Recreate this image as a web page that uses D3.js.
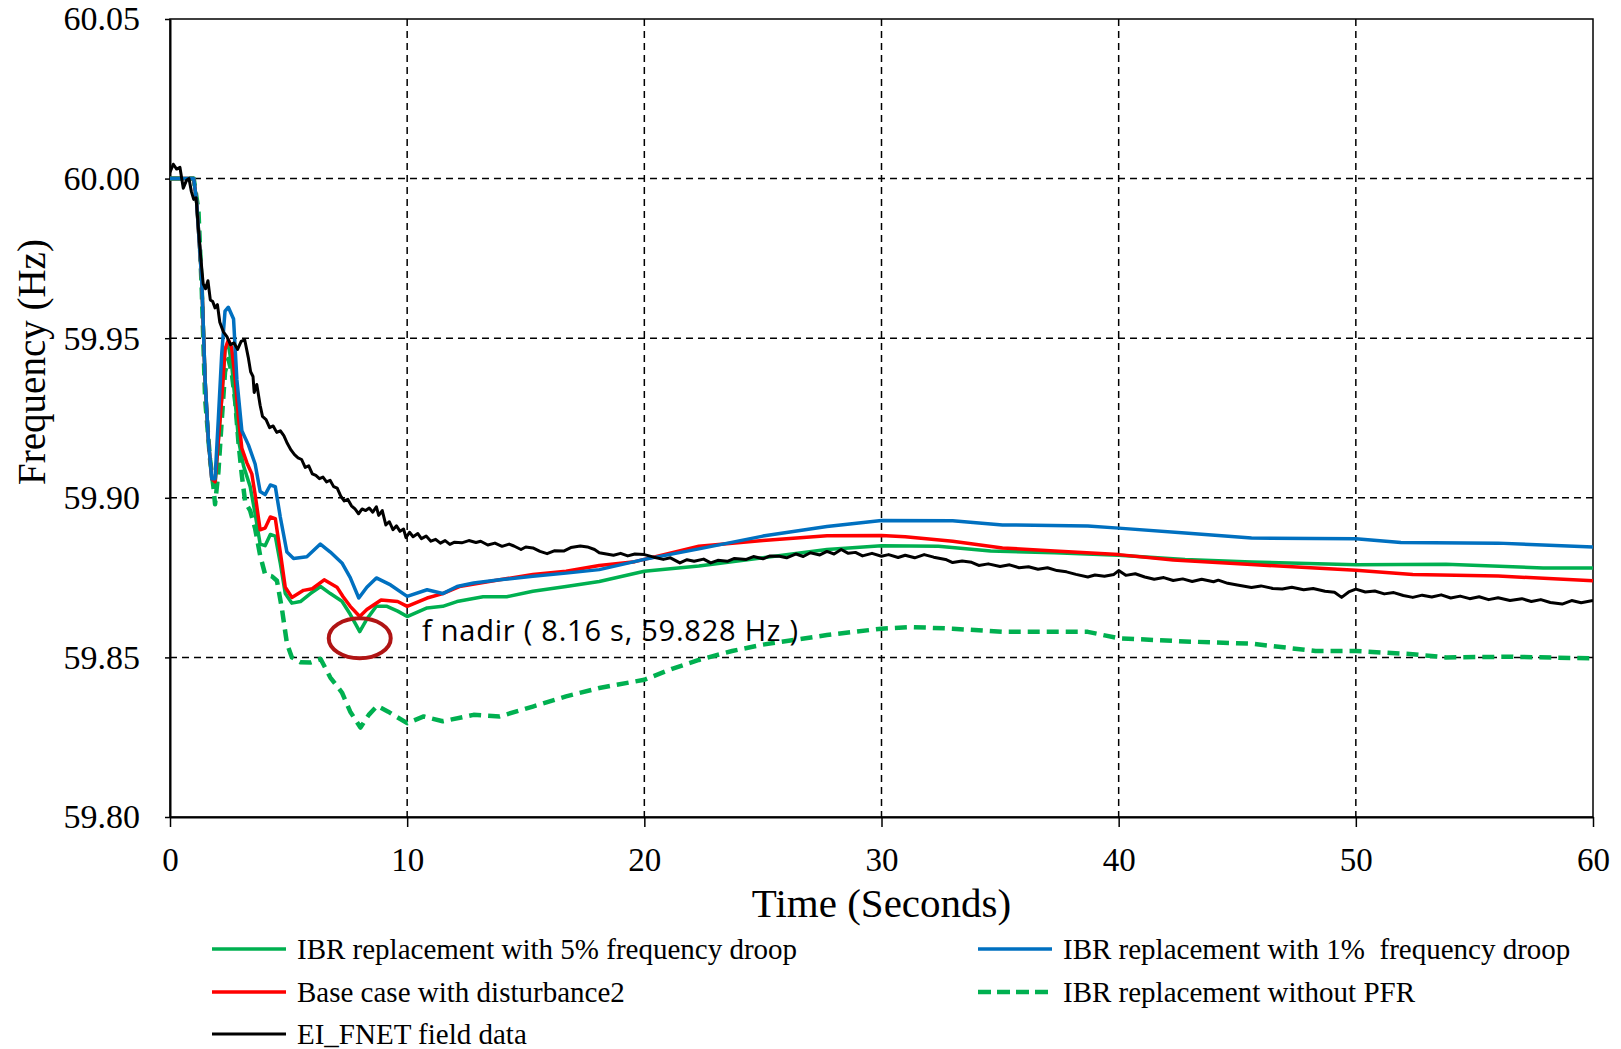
<!DOCTYPE html>
<html>
<head>
<meta charset="utf-8">
<script src="https://cdn.jsdelivr.net/npm/d3@7"></script>
<style>
  body { margin: 0; background: #fff; }
</style>
</head>
<body>
<svg id="chart" width="1621" height="1049"></svg>
<script>

const xTicks = [0, 10, 20, 30, 40, 50, 60]
const yTicks = [59.80, 59.85, 59.90, 59.95, 60.00, 60.05]

// IBR replacement with 5% frequency droop
const droop5 = [[0,60.000],[1.0,60.000],[1.12,59.993],[1.34,59.968],[1.48,59.937],[1.62,59.918],[1.76,59.906],[1.9,59.904],[2.04,59.918],[2.18,59.931],[2.32,59.9465],[2.46,59.948],[2.6,59.9417],[2.75,59.930],[2.89,59.918],[3.1,59.910],[3.38,59.9035],[3.59,59.895],[3.8,59.8855],[4.01,59.885],[4.23,59.8885],[4.44,59.888],[4.65,59.8795],[4.86,59.870],[5.14,59.867],[5.5,59.8675],[5.92,59.870],[6.35,59.8722],[6.76,59.870],[7.25,59.8676],[7.6,59.8635],[8.0,59.8581],[8.3,59.862],[8.7,59.866],[9.15,59.866],[9.6,59.8645],[10.0,59.8628],[10.84,59.8655],[11.5,59.866],[12.1,59.8675],[13.2,59.869],[14.2,59.869],[15.3,59.8707],[16.7,59.8722],[18.1,59.8738],[20,59.877],[22.3,59.8786],[25,59.8812],[27.7,59.8838],[30,59.885],[32.4,59.8848],[34.6,59.8833],[37.3,59.8828],[40,59.882],[42.8,59.8807],[45.6,59.8799],[50,59.879],[53.8,59.8792],[57.9,59.878],[60,59.878]]

// IBR replacement with 1% frequency droop
const droop1 = [[0,60],[1.0,60],[1.12,59.993],[1.34,59.968],[1.48,59.937],[1.62,59.918],[1.76,59.906],[1.9,59.906],[2.04,59.925],[2.18,59.945],[2.32,59.9585],[2.46,59.9597],[2.68,59.956],[2.82,59.937],[3.03,59.921],[3.31,59.9165],[3.59,59.9106],[3.8,59.902],[4.01,59.901],[4.23,59.904],[4.44,59.9035],[4.65,59.894],[4.93,59.883],[5.21,59.881],[5.77,59.8815],[6.34,59.8855],[6.76,59.883],[7.25,59.8796],[7.6,59.875],[7.96,59.8686],[8.3,59.872],[8.7,59.8749],[9.3,59.8727],[10,59.8691],[10.84,59.8712],[11.5,59.870],[12.1,59.8722],[12.8,59.8733],[13.9,59.8743],[15.3,59.8754],[16.7,59.8764],[18.1,59.8775],[20,59.8807],[22.3,59.884],[25,59.888],[27.7,59.891],[30,59.8929],[33,59.8928],[35.1,59.8915],[38.7,59.8912],[40,59.8905],[42.8,59.889],[45.6,59.8874],[50,59.8872],[51.9,59.886],[56,59.8858],[60,59.8846]]

// Base case with disturbance2
const baseCase = [[0,60],[1.0,60],[1.12,59.993],[1.34,59.968],[1.48,59.937],[1.62,59.918],[1.76,59.906],[1.9,59.905],[2.04,59.918],[2.18,59.931],[2.32,59.9465],[2.46,59.9495],[2.6,59.947],[2.75,59.937],[2.89,59.925],[3.03,59.9155],[3.24,59.911],[3.45,59.9075],[3.59,59.901],[3.8,59.89],[4.01,59.8905],[4.23,59.894],[4.44,59.8935],[4.65,59.883],[4.86,59.872],[5.14,59.8688],[5.63,59.871],[6.0,59.8715],[6.5,59.8743],[7.04,59.872],[7.3,59.869],[7.6,59.866],[8.0,59.8628],[8.3,59.865],[8.9,59.868],[9.6,59.8675],[10,59.866],[10.84,59.8686],[11.5,59.870],[12.2,59.8722],[13.9,59.8743],[15.3,59.876],[16.7,59.877],[18.1,59.8788],[19.6,59.880],[22.3,59.8848],[25,59.8866],[27.7,59.8881],[30,59.8882],[31,59.8878],[33,59.8864],[35.1,59.8843],[37.3,59.8833],[40,59.8822],[42.3,59.8805],[45.6,59.8791],[50,59.8773],[52.4,59.876],[56,59.8755],[60,59.874]]

// IBR replacement without PFR
const noPfr = [[0,60],[1.0,60],[1.2,59.99],[1.34,59.965],[1.48,59.931],[1.69,59.912],[1.83,59.9035],[1.9,59.898],[2.04,59.908],[2.18,59.924],[2.32,59.9394],[2.46,59.9435],[2.6,59.9394],[2.75,59.930],[2.89,59.917],[3.03,59.907],[3.17,59.8987],[3.38,59.896],[3.59,59.8903],[3.8,59.882],[4.01,59.876],[4.3,59.8754],[4.51,59.874],[4.72,59.8652],[4.93,59.8544],[5.14,59.850],[5.5,59.8485],[5.92,59.8484],[6.35,59.8495],[6.76,59.8437],[7.25,59.839],[7.6,59.833],[8.03,59.828],[8.38,59.832],[8.73,59.8348],[9.2,59.833],[10,59.8294],[10.7,59.8315],[11.5,59.830],[12.8,59.832],[13.9,59.8315],[15.3,59.8346],[16.7,59.8378],[18.1,59.8404],[20,59.843],[21.2,59.8465],[22.3,59.8492],[23.7,59.852],[25,59.854],[27.7,59.857],[30,59.859],[31.3,59.8595],[33,59.859],[35.1,59.858],[38.7,59.858],[40,59.856],[42.8,59.855],[45.6,59.8543],[48.3,59.852],[50,59.852],[52.4,59.851],[53.8,59.850],[56.5,59.8502],[60,59.8497]]

// EI_FNET field data
const fnet = [[0,60.002],[0.14,60.0045],[0.28,60.003],[0.42,60.0035],[0.56,59.997],[0.7,59.9995],[0.8,60.0],[0.9,59.996],[1.0,59.9935],[1.1,59.994],[1.2,59.984],[1.3,59.975],[1.4,59.967],[1.5,59.9655],[1.6,59.968],[1.7,59.962],[1.8,59.9615],[1.9,59.9595],[2.0,59.9605],[2.1,59.955],[2.25,59.952],[2.4,59.9505],[2.55,59.948],[2.7,59.9485],[2.85,59.9465],[3.0,59.949],[3.15,59.9495],[3.3,59.944],[3.4,59.9395],[3.5,59.938],[3.55,59.933],[3.66,59.9355],[3.8,59.929],[3.9,59.9255],[4.05,59.9245],[4.2,59.922],[4.35,59.9225],[4.5,59.9205],[4.65,59.921],[4.8,59.9195],[4.95,59.917],[5.1,59.915],[5.25,59.9135],[5.4,59.9125],[5.55,59.912],[5.7,59.9095],[5.85,59.910],[6.0,59.9075],[6.15,59.907],[6.3,59.906],[6.45,59.9065],[6.6,59.905],[6.75,59.9055],[6.9,59.9035],[7.05,59.903],[7.2,59.9005],[7.35,59.899],[7.5,59.8995],[7.65,59.8975],[7.8,59.8965],[7.95,59.895],[8.1,59.8965],[8.25,59.896],[8.4,59.8968],[8.55,59.8955],[8.7,59.8972],[8.8,59.8945],[8.95,59.896],[9.1,59.8915],[9.25,59.8925],[9.4,59.890],[9.55,59.8912],[9.7,59.8895],[9.85,59.8902],[9.95,59.8875],[10.1,59.8892],[10.25,59.8878],[10.45,59.8888],[10.6,59.8872],[10.8,59.8880],[11.0,59.8864],[11.2,59.8870],[11.4,59.8858],[11.6,59.8866],[11.8,59.8854],[12.0,59.8861],[12.3,59.8859],[12.6,59.8866],[12.9,59.8860],[13.1,59.8864],[13.4,59.8852],[13.7,59.8858],[14.0,59.8848],[14.3,59.8855],[14.5,59.8849],[14.8,59.8838],[15.0,59.8846],[15.3,59.8843],[15.6,59.8832],[15.9,59.8825],[16.2,59.8834],[16.6,59.8833],[16.9,59.8844],[17.3,59.8849],[17.6,59.8846],[17.9,59.8838],[18.1,59.8828],[18.4,59.8824],[18.7,59.882],[19.0,59.8826],[19.3,59.8818],[19.6,59.8824],[20.0,59.8822],[20.4,59.8814],[20.8,59.8807],[21.1,59.8812],[21.5,59.8796],[21.8,59.8806],[22.1,59.8801],[22.5,59.8808],[22.8,59.8796],[23.1,59.8804],[23.5,59.8801],[23.8,59.881],[24.3,59.8807],[24.6,59.8816],[25.0,59.8809],[25.3,59.8818],[25.7,59.8817],[26.0,59.8812],[26.4,59.8824],[26.7,59.8816],[27.0,59.8828],[27.4,59.8821],[27.7,59.8832],[28.0,59.8824],[28.3,59.8838],[28.6,59.8826],[28.9,59.8829],[29.2,59.8818],[29.6,59.8826],[30.0,59.8817],[30.3,59.8822],[30.7,59.8813],[31.0,59.882],[31.4,59.8812],[31.8,59.8822],[32.2,59.8814],[32.7,59.8807],[33.0,59.8797],[33.4,59.8802],[33.8,59.8798],[34.1,59.8788],[34.5,59.8793],[35.0,59.8785],[35.4,59.8790],[35.8,59.8781],[36.2,59.8784],[36.6,59.8776],[37.0,59.8781],[37.4,59.8772],[37.8,59.8768],[38.2,59.876],[38.7,59.8752],[39.0,59.8758],[39.4,59.8754],[39.8,59.8760],[40.0,59.8772],[40.3,59.8757],[40.7,59.8762],[41.1,59.8752],[41.5,59.8745],[41.9,59.875],[42.3,59.8741],[42.7,59.8746],[43.1,59.8738],[43.5,59.8745],[44.0,59.8737],[44.2,59.8742],[44.6,59.8732],[45.0,59.8727],[45.6,59.8719],[46.0,59.8724],[46.5,59.8716],[46.9,59.8714],[47.3,59.872],[47.8,59.8712],[48.2,59.8716],[48.7,59.8707],[49.1,59.8704],[49.4,59.8688],[49.7,59.8705],[50.0,59.8714],[50.4,59.8705],[50.8,59.8708],[51.2,59.8699],[51.6,59.8703],[52.0,59.8694],[52.4,59.8688],[52.8,59.8695],[53.2,59.8689],[53.6,59.8696],[54.0,59.8686],[54.4,59.8692],[54.8,59.8684],[55.2,59.8690],[55.6,59.8681],[56.0,59.8687],[56.5,59.8678],[57.0,59.8684],[57.4,59.8675],[57.8,59.8681],[58.2,59.8672],[58.7,59.8667],[59.1,59.8678],[59.5,59.8671],[60.0,59.8678]]

const nadirLabel = 'f nadir ( 8.16 s, 59.828 Hz )'
const nadirMark = [8.0, 59.856]

let series = [
    { name: 'IBR replacement with 5% frequency droop', data: droop5, color: '#00b050', width: 3.5, dash: null },
    { name: 'IBR replacement with 1%  frequency droop', data: droop1, color: '#0070c0', width: 3.5, dash: null },
    { name: 'Base case with disturbance2', data: baseCase, color: '#ff0000', width: 3.5, dash: null },
    { name: 'IBR replacement without PFR', data: noPfr, color: '#00b050', width: 4.5, dash: '12,7' },
    { name: 'EI_FNET field data', data: fnet, color: '#000000', width: 3, dash: null }
]

const plotL = 170, plotR = 1593, plotT = 19, plotB = 817
const serif = "'Liberation Serif', 'Times New Roman', serif"

let svg = d3.select('#chart')

svg.append('rect').attr('width', 1621).attr('height', 1049).attr('fill', '#fff')

let x = d3.scaleLinear().domain([0, 60]).range([plotL, plotR])
let y = d3.scaleLinear().domain([59.80, 60.05]).range([plotB, plotT])

// grid
svg.append('g')
    .selectAll('line')
    .data(yTicks.slice(1, -1))
    .join('line')
    .attr('x1', plotL).attr('x2', plotR)
    .attr('y1', d => y(d)).attr('y2', d => y(d))
    .attr('stroke', '#000').attr('stroke-width', 1.5).attr('stroke-dasharray', '7,5')

svg.append('g')
    .selectAll('line')
    .data(xTicks.slice(1, -1))
    .join('line')
    .attr('y1', plotT).attr('y2', plotB)
    .attr('x1', d => x(d)).attr('x2', d => x(d))
    .attr('stroke', '#000').attr('stroke-width', 1.5).attr('stroke-dasharray', '7,5')

svg.append('rect')
    .attr('x', plotL).attr('y', plotT)
    .attr('width', plotR - plotL).attr('height', plotB - plotT)
    .attr('fill', 'none').attr('stroke', '#000').attr('stroke-width', 1.5)

// axes
let xAxis = svg.append('g')
    .attr('transform', `translate(0,${plotB})`)
    .call(d3.axisBottom(x).tickValues(xTicks).tickSize(10).tickSizeOuter(0).tickPadding(21))
xAxis.select('.domain').attr('stroke-width', 2)
xAxis.selectAll('line').attr('stroke-width', 1.5)
xAxis.selectAll('text').style('font-family', serif).style('font-size', '33px').attr('fill', '#000')

let yAxis = svg.append('g')
    .attr('transform', `translate(${plotL},0)`)
    .call(d3.axisLeft(y).tickValues(yTicks).tickSize(5).tickSizeOuter(0).tickPadding(25).tickFormat(d3.format('.2f')))
yAxis.select('.domain').attr('stroke-width', 2)
yAxis.selectAll('line').attr('stroke-width', 1.5)
yAxis.selectAll('text').style('font-family', serif).style('font-size', '34px').attr('fill', '#000')

svg.append('text')
    .attr('x', (plotL + plotR) / 2)
    .attr('y', 917)
    .attr('text-anchor', 'middle')
    .style('font-family', serif)
    .style('font-size', '41px')
    .text('Time (Seconds)')

svg.append('text')
    .attr('transform', 'translate(45,362) rotate(-90)')
    .attr('text-anchor', 'middle')
    .style('font-family', serif)
    .style('font-size', '39px')
    .text('Frequency (Hz)')

// lines
svg.append('clipPath').attr('id', 'plotClip')
    .append('rect').attr('x', plotL).attr('y', plotT).attr('width', plotR - plotL).attr('height', plotB - plotT)

let line = d3.line().x(d => x(d[0])).y(d => y(d[1]))

let drawOrder = [3, 0, 2, 1, 4]
svg.append('g')
    .attr('clip-path', 'url(#plotClip)')
    .selectAll('path')
    .data(drawOrder.map(i => series[i]))
    .join('path')
    .attr('d', d => line(d.data))
    .attr('fill', 'none')
    .attr('stroke', d => d.color)
    .attr('stroke-width', d => d.width)
    .attr('stroke-dasharray', d => d.dash)
    .attr('stroke-linejoin', 'round')

// nadir marker
svg.append('ellipse')
    .attr('cx', x(nadirMark[0]))
    .attr('cy', y(nadirMark[1]))
    .attr('rx', 31).attr('ry', 20)
    .attr('fill', 'none')
    .attr('stroke', '#b01414')
    .attr('stroke-width', 4)

svg.append('text')
    .attr('x', 422)
    .attr('y', 641)
    .attr('textLength', 376)
    .style('font-family', "'Open Sans', sans-serif")
    .style('font-size', '29px')
    .style('white-space', 'pre')
    .text(nadirLabel)

// legend
let legendPos = [[212, 949], [978, 949], [212, 992], [978, 992], [212, 1034]]
let legend = svg.append('g')
    .selectAll('g')
    .data(series)
    .join('g')
    .attr('transform', (d, i) => `translate(${legendPos[i][0]},${legendPos[i][1]})`)

legend.append('line')
    .attr('x1', 0).attr('x2', 74)
    .attr('stroke', d => d.color)
    .attr('stroke-width', d => d.width)
    .attr('stroke-dasharray', d => d.dash ? '13,6' : null)

legend.append('text')
    .attr('x', 85)
    .attr('dy', '0.33em')
    .style('font-family', serif)
    .style('font-size', '29px')
    .style('white-space', 'pre')
    .text(d => d.name)

</script>
</body>
</html>
